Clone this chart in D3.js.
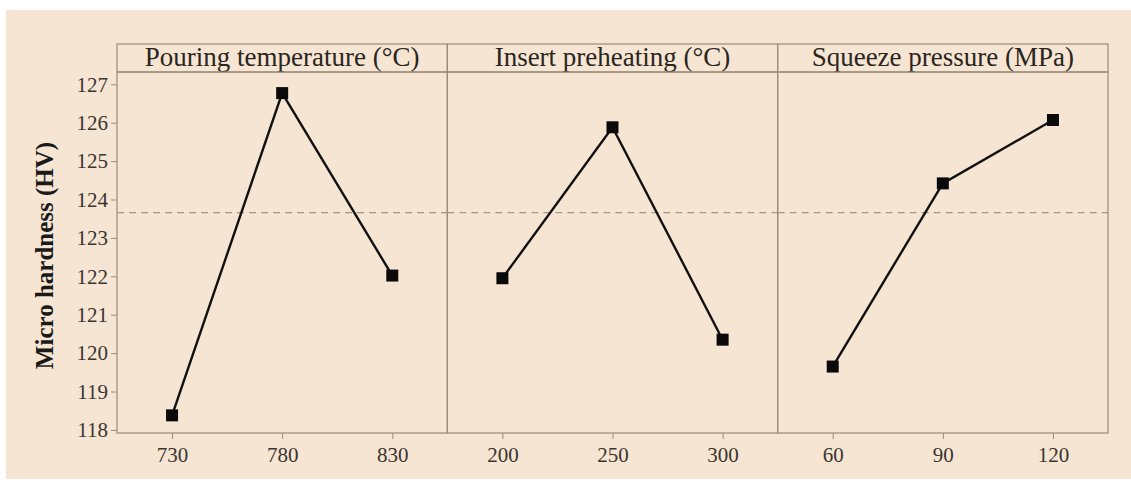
<!DOCTYPE html>
<html>
<head>
<meta charset="utf-8">
<script src="https://cdn.jsdelivr.net/npm/d3@7"></script>
<style>
  body { margin: 0; background: #fff; }
  svg { display: block; }
</style>
</head>
<body>
<svg id="chart" width="1131" height="486"></svg>
<script>
// main effects data
const factors = ["Pouring temperature (°C)", "Insert preheating (°C)", "Squeeze pressure (MPa)"];
const levels = [
	["730", "780", "830"],
	["200", "250", "300"],
	["60", "90", "120"],
];
const hardness = [
	[118.38, 126.77, 122.02],
	[121.95, 125.88, 120.35],
	[119.65, 124.42, 126.07],
];
const meanLine = 123.66;
const yTicks = [118, 119, 120, 121, 122, 123, 124, 125, 126, 127];

const width = 1131;
const height = 486;
const left = 117, right = 1108;
const stripTop = 44, stripBottom = 72, bottom = 433;
const frameColor = "#9a8b7b";
const font = "'Liberation Serif', 'Times New Roman', serif";

const svg = d3.select("#chart");

svg.append("rect")
	.attr("x", 6).attr("y", 10)
	.attr("width", width - 6).attr("height", 469)
	.attr("fill", "#f6e5d3");

const panelScale = d3.scaleBand()
	.domain(d3.range(factors.length))
	.range([left, right])
	.paddingInner(0);

const yScale = d3.scaleLinear([117.92, 127.32], [bottom, stripBottom]);

// y axis
const yAxis = d3.axisLeft(yScale)
	.tickValues(yTicks)
	.tickSizeInner(6)
	.tickSizeOuter(0)
	.tickPadding(3);

const yAxisGroup = svg.append("g")
	.attr("transform", `translate(${left},0)`)
	.call(yAxis);
yAxisGroup.select(".domain").remove();
yAxisGroup.selectAll(".tick line").attr("stroke", frameColor);
yAxisGroup.selectAll(".tick text")
	.attr("fill", "#3a3530")
	.style("font-family", font)
	.style("font-size", "21px");

svg.append("text")
	.attr("transform", `translate(53,${(stripBottom + bottom) / 2 + 3}) rotate(-90)`)
	.attr("text-anchor", "middle")
	.style("font-family", font)
	.style("font-size", "25px")
	.style("font-weight", "bold")
	.attr("fill", "#1a1a1a")
	.text("Micro hardness (HV)");

factors.forEach((name, i) => {
	const x0 = panelScale(i);
	const w = panelScale.bandwidth();
	const g = svg.append("g").attr("class", "panel");

	const xScale = d3.scalePoint()
		.domain(levels[i])
		.range([x0, x0 + w])
		.padding(0.5);

	// strip
	g.append("rect")
		.attr("x", x0).attr("y", stripTop)
		.attr("width", w).attr("height", stripBottom - stripTop)
		.attr("fill", "none").attr("stroke", frameColor).attr("stroke-width", 1.2);
	g.append("text")
		.attr("x", x0 + w / 2).attr("y", stripBottom - 6)
		.attr("text-anchor", "middle")
		.style("font-family", font)
		.style("font-size", "27px")
		.attr("fill", "#2a2520")
		.text(name);

	// panel frame
	g.append("rect")
		.attr("x", x0).attr("y", stripBottom)
		.attr("width", w).attr("height", bottom - stripBottom)
		.attr("fill", "none").attr("stroke", frameColor).attr("stroke-width", 1.2);

	// reference (grand mean) line
	g.append("line")
		.attr("x1", x0).attr("x2", x0 + w)
		.attr("y1", yScale(meanLine)).attr("y2", yScale(meanLine))
		.attr("stroke", "#a59585").attr("stroke-width", 1.3)
		.attr("stroke-dasharray", "7,5");

	// x axis
	const xAxis = d3.axisBottom(xScale)
		.tickSizeInner(6)
		.tickSizeOuter(0)
		.tickPadding(8);
	const xAxisGroup = g.append("g")
		.attr("transform", `translate(0,${bottom})`)
		.call(xAxis);
	xAxisGroup.select(".domain").remove();
	xAxisGroup.selectAll(".tick line").attr("stroke", frameColor);
	xAxisGroup.selectAll(".tick text")
		.attr("fill", "#3a3530")
		.style("font-family", font)
		.style("font-size", "21px");

	const pts = levels[i].map((lv, j) => [xScale(lv), yScale(hardness[i][j])]);

	g.append("path")
		.attr("d", d3.line()(pts))
		.attr("fill", "none")
		.attr("stroke", "#111")
		.attr("stroke-width", 2.4);

	g.selectAll("rect.pt")
		.data(pts)
		.enter()
		.append("rect")
		.attr("class", "pt")
		.attr("x", (d) => d[0] - 6)
		.attr("y", (d) => d[1] - 6)
		.attr("width", 12)
		.attr("height", 12)
		.attr("fill", "#0a0a0a");
});
</script>
</body>
</html>
